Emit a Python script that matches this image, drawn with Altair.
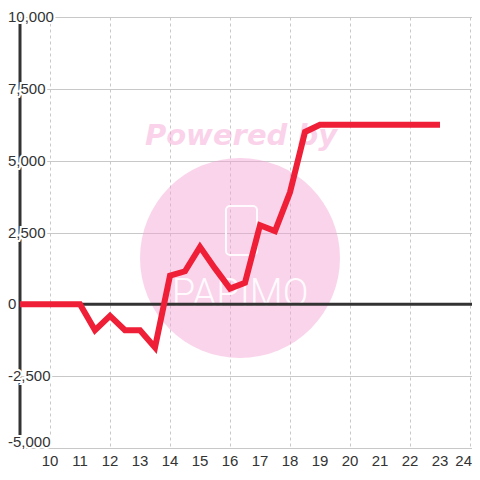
import altair as alt
import pandas as pd

# ---- data ----
x_vals = [9, 9.5, 10, 10.5, 11, 11.5, 12, 12.5, 13, 13.5, 14, 14.5, 15, 15.5,
          16, 16.5, 17, 17.5, 18, 18.5, 19, 19.5, 20, 20.5, 21, 21.5, 22, 22.5, 23]
y_vals = [0, 0, 0, 0, 0, -900, -400, -900, -900, -1500, 1000, 1150, 2000, 1250,
          550, 750, 2750, 2550, 3900, 6000, 6250, 6250, 6250, 6250, 6250, 6250, 6250, 6250, 6250]

x_ticks = list(range(10, 25))
y_label_values = [-2500, 0, 2500, 5000, 7500, 10000]
y_label_text = ["-2,500", "0", "2,500", "5,000", "7,500", "10,000"]
y_bottom_value = [-5000]
y_bottom_text = ["-5,000"]
y_grid_values = [-5000, -3750, -2500, -1250, 0, 1250, 2500, 3750, 5000, 6250, 7500, 8750, 10000]

watermark_text = ["Powered by"]
logo_text = ["PAPIMO"]

series = pd.DataFrame({"x": x_vals, "y": y_vals})
labels = pd.DataFrame({"v": y_label_values, "lab": y_label_text})
blabels = pd.DataFrame({"v": y_bottom_value, "lab": y_bottom_text})
xlabels_df = pd.DataFrame({"t": x_ticks[:-1], "lab": [str(t) for t in x_ticks[:-1]]})
xlast_df = pd.DataFrame({"t": x_ticks[-1:], "lab": [str(t) for t in x_ticks[-1:]]})
one = pd.DataFrame({"a": [0]})

xscale = alt.Scale(domain=[9, 24.0667], nice=False, zero=False)
yscale = alt.Scale(domain=[-5000, 10000], nice=False, zero=False)
FONT = "Liberation Sans"
DARK = "#333333"

# watermark
wm_circle = alt.Chart(one).mark_circle(color="#f5a0d2", opacity=0.45, size=40000).encode(
    x=alt.value(220), y=alt.value(241))
wm_text = alt.Chart(pd.DataFrame({"t": watermark_text})).mark_text(
    font="DejaVu Sans", fontWeight="bold", fontStyle="italic", fontSize=29,
    color="#f5a0d2", opacity=0.45, align="center", baseline="alphabetic"
).encode(x=alt.value(221), y=alt.value(128), text="t:N")
wm_phone = alt.Chart(one).mark_rect(
    fill="transparent", stroke="white", strokeWidth=2, cornerRadius=4, opacity=0.9
).encode(x=alt.value(206), x2=alt.value(237), y=alt.value(189), y2=alt.value(238))
wm_logo = alt.Chart(pd.DataFrame({"t": logo_text})).mark_text(
    font="Roboto", fontWeight=300, fontSize=38, color="white", opacity=0.9,
    align="center", baseline="alphabetic"
).encode(x=alt.value(220), y=alt.value(289), text="t:N")

# main line with axes (grid only)
line = alt.Chart(series).mark_line(color="#ee1f36", strokeWidth=6, strokeJoin="miter").encode(
    x=alt.X("x:Q", scale=xscale, axis=alt.Axis(
        values=x_ticks, grid=True, gridDash=[3, 3], gridColor="#c8c8c8", gridWidth=1,
        domain=False, ticks=False, labels=False, title=None)),
    y=alt.Y("y:Q", scale=yscale, axis=alt.Axis(
        values=y_grid_values, grid=True, gridColor="#c8c8c8", gridWidth=1,
        labels=False, ticks=False, domain=False, title=None)),
)

zero_line = alt.Chart(one).mark_rule(color=DARK, strokeWidth=3).encode(
    y=alt.datum(0, scale=yscale))
y_axis_line = alt.Chart(one).mark_rule(color=DARK, strokeWidth=3).encode(
    x=alt.datum(9, scale=xscale))


def ylab(df, baseline, dy, halo):
    kw = dict(font=FONT, fontSize=15, align="left", baseline=baseline, dy=dy)
    if halo:
        kw.update(color="white", stroke="white", strokeWidth=4)
    else:
        kw.update(color=DARK)
    return alt.Chart(df).mark_text(**kw).encode(
        y=alt.Y("v:Q", scale=yscale), x=alt.value(-12), text="lab:N")


halo = ylab(labels, "middle", 0, True)
ylabels = ylab(labels, "middle", 0, False)
bhalo = ylab(blabels, "alphabetic", -1, True)
blabel = ylab(blabels, "alphabetic", -1, False)

xlabels = alt.Chart(xlabels_df).mark_text(
    font=FONT, fontSize=15, align="center", baseline="alphabetic", color=DARK
).encode(x=alt.X("t:Q", scale=xscale), y=alt.value(449), text="lab:N")
xlast = alt.Chart(xlast_df).mark_text(
    font=FONT, fontSize=15, align="right", baseline="alphabetic", color=DARK, dx=2
).encode(x=alt.X("t:Q", scale=xscale), y=alt.value(449), text="lab:N")

chart = alt.layer(
    wm_circle, wm_text, wm_phone, wm_logo, y_axis_line, zero_line, line,
    halo, bhalo, ylabels, blabel, xlabels, xlast
).properties(
    width=452, height=431,
    padding={"left": 12, "top": 9, "right": 0, "bottom": 21},
    autosize=alt.AutoSizeParams(type="none"),
    background="white",
).configure_view(stroke=None)

chart.save("out.html", embed_options={"renderer": "svg", "actions": False})
